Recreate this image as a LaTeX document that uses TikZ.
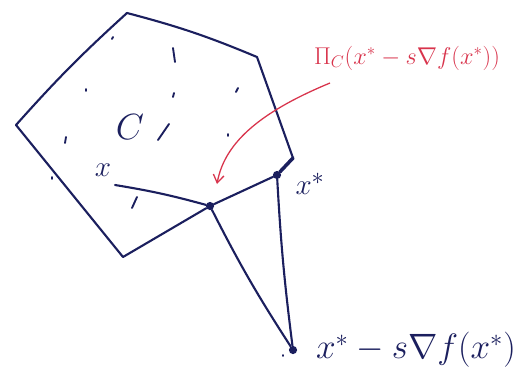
\documentclass[tikz,border=0pt]{standalone}
\usetikzlibrary{arrows.meta,positioning,calc}
\definecolor{cInk}{HTML}{1B1F5E}
\definecolor{cRed}{HTML}{D8344C}
\tikzset{
  edge/.style={draw=cInk, line width=1.8pt, line join=round, line cap=round},
  pt/.style={circle, fill=cInk, inner sep=0pt, minimum size=7pt},
  speck/.style={draw=cInk, line width=1.6pt, line cap=round},
  lbl/.style={text=cInk, inner sep=1pt},
  proj/.style={-{Straight Barb[length=2.4mm, width=3.2mm]}, draw=cRed, line width=1.1pt},
}

\begin{document}
\begin{tikzpicture}[x=0.03cm, y=-0.03cm]
    \useasboundingbox (0,0) rectangle (531,381);
    % the set C
    \coordinate (vTop) at (127,13);
    \coordinate (vRight) at (257,57);
    \coordinate (vSide) at (293,158);
    \coordinate (vBot) at (123,257);
    \coordinate (vLeft) at (16,125);
    \node[pt] (xstar) at (277,175) {};
    \node[pt] (pc) at (210,206) {};
    \node[pt] (step) at (293,350) {};
    \draw[edge] (vTop) to[bend left=4] (vRight) -- (vSide);
    \draw[edge, line width=3pt] (vSide) -- (xstar);
    \draw[edge] (xstar) -- (pc) -- (vBot) -- (vLeft) to[bend left=3] (vTop);
    % specks inside C
    \foreach \a/\b/\c/\d in {113/37/112/39, 173/48/175/62, 86/89/86/91, 174/93/173/97,
        238/88/236/92, 66/137/65/143, 158/140/169/124, 228/134/228/136, 52/177/52/179,
        132/208/137/197, 283/355/283/356}
      \draw[speck] (\a,\b) -- (\c,\d);
    % x and the steps
    \node[lbl, font=\Huge] (xlab) at (103,170) {$x$};
    \coordinate (xend) at (115,185);
    \draw[edge] (xend) to[bend left=3] (pc);
    \draw[edge] (pc) to[bend right=3] (step);
    \draw[edge] (xstar) to[bend right=2] (step);
    \node[lbl, font=\Huge] (xslab) at (310,184) {$x^{*}$};
    \node[lbl, font=\huge, scale=1.45, anchor=west] (steplab) at (314,350) {$x^{*} - s\nabla f(x^{*})$};
    \node[lbl, font=\Huge, scale=1.25] (clab) at (130,127) {$C$};
    % projection label
    \node[text=cRed, font=\LARGE, scale=1.2] (pilab) at (407,58) {$\Pi_C(x^{*} - s\nabla f(x^{*}))$};
    \coordinate (arr) at (330,83);
    \draw[proj] (arr) .. controls (265,110) and (225,140) .. (217,184);
  \end{tikzpicture}
\end{document}
